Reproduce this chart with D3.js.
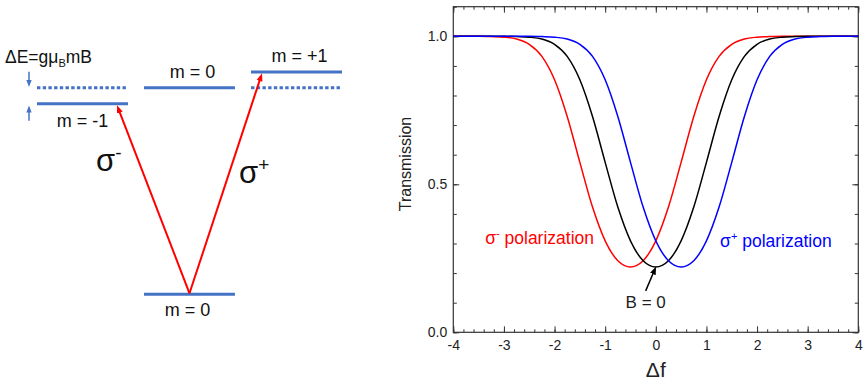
<!DOCTYPE html>
<html><head><meta charset="utf-8">
<script src="https://cdn.jsdelivr.net/npm/d3@7"></script>
<style>body{margin:0;background:#fff}svg{display:block}</style>
</head><body><svg id="c" width="868" height="385"></svg>
<script>
// ---------- DATA ----------
const detuning = [-4,-3.75,-3.5,-3.25,-3,-2.75,-2.5,-2.25,-2,-1.75,-1.5,-1.25,-1,-0.75,-0.5,-0.25,0,0.25,0.5,0.75,1,1.25,1.5,1.75,2,2.25,2.5,2.75,3,3.25,3.5,3.75,4];
const sigmaMinus = [1.000,1.000,1.000,0.999,0.997,0.991,0.973,0.932,0.853,0.729,0.574,0.423,0.309,0.242,0.221,0.242,0.309,0.423,0.574,0.729,0.853,0.932,0.973,0.991,0.997,0.999,1.000,1.000,1.000,1.000,1.000,1.000,1.000];
const zeroField  = [1.000,1.000,1.000,1.000,1.000,0.999,0.997,0.991,0.973,0.932,0.853,0.729,0.574,0.423,0.309,0.242,0.221,0.242,0.309,0.423,0.574,0.729,0.853,0.932,0.973,0.991,0.997,0.999,1.000,1.000,1.000,1.000,1.000];
const sigmaPlus  = [1.000,1.000,1.000,1.000,1.000,1.000,1.000,0.999,0.997,0.991,0.973,0.932,0.853,0.729,0.574,0.423,0.309,0.242,0.221,0.242,0.309,0.423,0.574,0.729,0.853,0.932,0.973,0.991,0.997,0.999,1.000,1.000,1.000];
const xTicks = [-4,-3,-2,-1,0,1,2,3,4];
const yTicks = [0,0.5,1.0];
const xTickLabels = ["-4","-3","-2","-1","0","1","2","3","4"];
const yTickLabels = ["0.0","0.5","1.0"];

// Energy-level diagram (energies in units of the optical transition)
const mValues = [-1,0,1];
const mLabels = ["m = -1","m = 0","m = +1"];
const excitedEnergy = [0.922,1.0,1.076];
const unshiftedEnergy = 1.0;
const groundEnergy = 0;
const groundLabel = "m = 0";

// ---------- DRAW ----------
const svg = d3.select("#c");
svg.append("rect").attr("width",868).attr("height",385).attr("fill","#fff");
const defs = svg.append("defs");
function marker(id,color,w){
  defs.append("marker").attr("id",id).attr("viewBox","0 0 10 10")
   .attr("refX",6).attr("refY",5).attr("markerWidth",w).attr("markerHeight",w)
   .attr("markerUnits","userSpaceOnUse").attr("orient","auto")
   .append("path").attr("d","M0,1.2L10,5L0,8.8Z").attr("fill",color);
}
marker("aRed","#ff0000",8);
marker("aBlue","#4472c4",7);
marker("aBlack","#000",8);

const lvlBlue = "#4472c4";
const diagFont = "'Liberation Sans', Arial, sans-serif";

// scales for the diagram
const xm = d3.scaleBand().domain(mValues).range([37,342]).paddingInner(0.15).paddingOuter(0);
const yE = d3.scaleLinear().domain([0,1]).range([294.3,87.7]);
const bw = xm.bandwidth();

const dg = svg.append("g");
// dotted unshifted levels for m = ±1
dg.selectAll("line.dot").data(mValues.filter(m=>m!==0)).join("line")
  .attr("x1",m=>xm(m)).attr("x2",m=>xm(m)+bw)
  .attr("y1",yE(unshiftedEnergy)).attr("y2",yE(unshiftedEnergy))
  .attr("stroke",lvlBlue).attr("stroke-width",3).attr("stroke-dasharray","3.4,2.3");
// shifted excited levels
dg.selectAll("line.lvl").data(mValues).join("line")
  .attr("x1",m=>xm(m)).attr("x2",m=>xm(m)+bw)
  .attr("y1",(m,i)=>yE(excitedEnergy[i])).attr("y2",(m,i)=>yE(excitedEnergy[i]))
  .attr("stroke",lvlBlue).attr("stroke-width",3);
// ground level
dg.append("line").attr("x1",xm(0)).attr("x2",xm(0)+bw)
  .attr("y1",yE(groundEnergy)).attr("y2",yE(groundEnergy))
  .attr("stroke",lvlBlue).attr("stroke-width",3);
// labels
dg.selectAll("text.ml").data(mValues).join("text")
  .attr("x",m=>xm(m)+bw/2+(m===-1?0:3))
  .attr("y",(m,i)=> m===-1 ? yE(excitedEnergy[i])+23 : yE(excitedEnergy[i])-9.5)
  .attr("text-anchor","middle").attr("font-family",diagFont).attr("font-size",18)
  .attr("fill","#111").text((m,i)=>mLabels[i]);
dg.append("text").attr("x",xm(0)+bw/2-2).attr("y",yE(groundEnergy)+21.5)
  .attr("text-anchor","middle").attr("font-family",diagFont).attr("font-size",18)
  .attr("fill","#111").text(groundLabel);

// transition arrows
const apex = [xm(0)+bw/2, yE(groundEnergy)-1];
const targets = [
  [xm(-1)+bw*0.88, yE(excitedEnergy[0])+1.5],
  [xm(1)+bw*0.12, yE(excitedEnergy[2])+1.5]
];
targets.forEach(t=>{
  const dx=t[0]-apex[0], dy=t[1]-apex[1], L=Math.hypot(dx,dy);
  dg.append("line").attr("x1",apex[0]).attr("y1",apex[1])
    .attr("x2",t[0]-dx/L*3).attr("y2",t[1]-dy/L*3)
    .attr("stroke","#ff0000").attr("stroke-width",2).attr("marker-end","url(#aRed)");
});
// sigma labels
const sm = dg.append("text").attr("x",96).attr("y",171).attr("font-family",diagFont)
  .attr("font-size",31).attr("fill","#111");
sm.append("tspan").text("σ");
sm.append("tspan").attr("font-size",19).attr("dy",-12).text("-");
const sp = dg.append("text").attr("x",239).attr("y",183).attr("font-family",diagFont)
  .attr("font-size",31).attr("fill","#111");
sp.append("tspan").text("σ");
sp.append("tspan").attr("font-size",19).attr("dy",-12).text("+");

// ΔE arrows
const ax = 29;
dg.append("line").attr("x1",ax).attr("x2",ax).attr("y1",yE(unshiftedEnergy)-16).attr("y2",yE(unshiftedEnergy)-3.5)
  .attr("stroke",lvlBlue).attr("stroke-width",1.5).attr("marker-end","url(#aBlue)");
dg.append("line").attr("x1",ax).attr("x2",ax).attr("y1",yE(excitedEnergy[0])+17).attr("y2",yE(excitedEnergy[0])+4.5)
  .attr("stroke",lvlBlue).attr("stroke-width",1.5).attr("marker-end","url(#aBlue)");
const de = dg.append("text").attr("x",5).attr("y",63).attr("font-family",diagFont)
  .attr("font-size",17.5).attr("fill","#111");
de.append("tspan").text("ΔE=gμ");
de.append("tspan").attr("font-size",11).attr("dy",4).text("B");
de.append("tspan").attr("dy",-4).text("mB");

// ---------- RIGHT CHART ----------
const px0=453.3, px1=858.3, py0=6.7, py1=332.3;
const x = d3.scaleLinear().domain([-4,4]).range([px0,px1]);
const y = d3.scaleLinear().domain([0,1.1]).range([py1,py0]);
const axCol = "#333", txtCol = "#222";
const chartFont = "'Liberation Sans', Arial, sans-serif";
const cg = svg.append("g");

function styleAxis(sel){
  sel.select(".domain").remove();
  sel.selectAll("line").attr("stroke",axCol).attr("stroke-width",1);
  sel.selectAll("text").attr("fill",txtCol).attr("font-family",chartFont).attr("font-size",14);
}
const xMinor = x.ticks(40), yMinor = y.ticks(11);
// bottom
cg.append("g").attr("transform",`translate(0,${py1})`)
  .call(d3.axisBottom(x).tickValues(xMinor).tickSize(-3).tickFormat("")).call(styleAxis);
cg.append("g").attr("transform",`translate(0,${py1})`)
  .call(d3.axisBottom(x).tickValues(xTicks).tickSize(-6).tickPadding(8).tickFormat((d,i)=>xTickLabels[i])).call(styleAxis);
// top
cg.append("g").attr("transform",`translate(0,${py0})`)
  .call(d3.axisTop(x).tickValues(xMinor).tickSize(-3).tickFormat("")).call(styleAxis);
cg.append("g").attr("transform",`translate(0,${py0})`)
  .call(d3.axisTop(x).tickValues(xTicks).tickSize(-6).tickFormat("")).call(styleAxis);
// left
cg.append("g").attr("transform",`translate(${px0},0)`)
  .call(d3.axisLeft(y).tickValues(yMinor).tickSize(-3.5).tickFormat("")).call(styleAxis);
cg.append("g").attr("transform",`translate(${px0},0)`)
  .call(d3.axisLeft(y).tickValues(yTicks).tickSize(-6).tickPadding(6).tickFormat((d,i)=>yTickLabels[i])).call(styleAxis);
// right
cg.append("g").attr("transform",`translate(${px1},0)`)
  .call(d3.axisRight(y).tickValues(yMinor).tickSize(-3.5).tickFormat("")).call(styleAxis);
cg.append("g").attr("transform",`translate(${px1},0)`)
  .call(d3.axisRight(y).tickValues(yTicks).tickSize(-6).tickFormat("")).call(styleAxis);

// frame
cg.append("rect").attr("x",px0).attr("y",py0).attr("width",px1-px0).attr("height",py1-py0)
  .attr("fill","none").attr("stroke",axCol).attr("stroke-width",1.2);

// curves
const line = d3.line().x((d,i)=>x(detuning[i])).y(d=>y(d)).curve(d3.curveMonotoneX);
[[sigmaMinus,"#ff0000"],[zeroField,"#000000"],[sigmaPlus,"#0000ff"]].forEach(([s,c])=>{
  cg.append("path").attr("d",line(s)).attr("fill","none").attr("stroke",c).attr("stroke-width",1.5);
});

// labels
const lm = cg.append("text").attr("x",x(-3.37)).attr("y",y(0.298)).attr("font-family",chartFont)
  .attr("font-size",17.5).attr("fill","#ff0000");
lm.append("tspan").text("σ");
lm.append("tspan").attr("font-size",11).attr("dy",-7).text("-");
lm.append("tspan").attr("dy",7).text(" polarization");
const lp = cg.append("text").attr("x",x(1.27)).attr("y",y(0.288)).attr("font-family",chartFont)
  .attr("font-size",17.5).attr("fill","#0000ff");
lp.append("tspan").text("σ");
lp.append("tspan").attr("font-size",11).attr("dy",-7).text("+");
lp.append("tspan").attr("dy",7).text(" polarization");

cg.append("text").attr("x",x(-0.2)).attr("y",y(0.083)).attr("text-anchor","middle")
  .attr("font-family",chartFont).attr("font-size",17).attr("fill",txtCol).text("B = 0");
cg.append("line").attr("x1",x(-0.2)).attr("y1",y(0.14)).attr("x2",x(-0.02)).attr("y2",y(0.212))
  .attr("stroke","#000").attr("stroke-width",1.5).attr("marker-end","url(#aBlack)");

// axis titles
cg.append("text").attr("x",(px0+px1)/2).attr("y",377).attr("text-anchor","middle")
  .attr("font-family",chartFont).attr("font-size",21).attr("fill",txtCol).text("Δf");
cg.append("text").attr("transform",`translate(411,164) rotate(-90)`).attr("text-anchor","middle")
  .attr("font-family",chartFont).attr("font-size",16).attr("fill",txtCol).text("Transmission");
</script>
</body></html>
